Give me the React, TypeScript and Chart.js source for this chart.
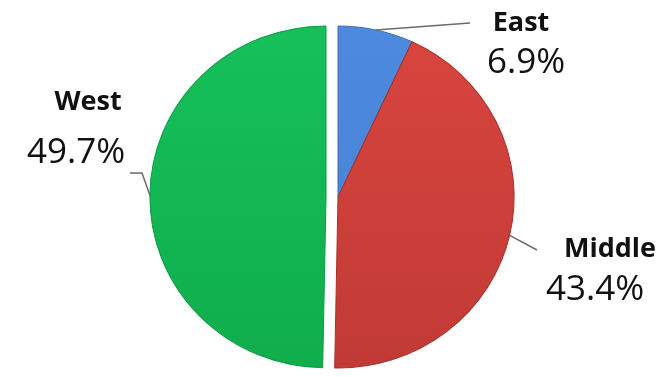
import React, { useEffect, useRef } from "react";
import { Chart, registerables } from "chart.js";

Chart.register(...registerables);

const categories = ["East", "Middle", "West"];
const shares = [6.9, 43.4, 49.7];
const percentLabels = ["6.9%", "43.4%", "49.7%"];
const topColors = ["#4d8ade", "#d9453f", "#15c05a"];
const bottomColors = ["#4582d2", "#c13a35", "#10ad4d"];
const borderColors = ["#3d72b8", "#a9322e", "#0f9a46"];

// style: explode distance per slice (px) and horizontal stretch of the pie
const explode = [0, 0, 12];
const stretchX = 1.03;
const pieRadius = 171;

// label layout relative to each slice's (exploded) centre (style only)
const labelLayout = [
  { line: [[132, -174]], title: [183, -174], value: [188, -134] },
  { line: [[199, 53]], title: [272, 52], value: [257, 93] },
  { line: [[-184, -24], [-196, -24]], title: [-238, -95], value: [-250, -44] },
];

function sliceCentre(arc: any, i: number) {
  const mid = (arc.startAngle + arc.endAngle) / 2;
  const d = explode[i] || 0;
  return { cx: arc.x + Math.cos(mid) * d, cy: arc.y + Math.sin(mid) * d, mid };
}

const explodePlugin = {
  id: "explodeStretch",
  beforeDatasetsDraw(chart: any) {
    const meta = chart.getDatasetMeta(0);
    meta.data.forEach((arc: any, i: number) => {
      if (arc.__patched) return;
      const orig = arc.draw.bind(arc);
      arc.draw = (ctx: CanvasRenderingContext2D) => {
        const { cx, cy } = sliceCentre(arc, i);
        ctx.save();
        ctx.translate(cx, cy);
        ctx.scale(stretchX, 1);
        ctx.translate(-arc.x, -arc.y);
        orig(ctx);
        ctx.restore();
      };
      arc.__patched = true;
    });
  },
};

const labelPlugin = {
  id: "sliceLabels",
  afterDatasetsDraw(chart: any) {
    const ctx = chart.ctx;
    const meta = chart.getDatasetMeta(0);
    meta.data.forEach((arc: any, i: number) => {
      const { cx, cy, mid } = sliceCentre(arc, i);
      const r = arc.outerRadius;
      const ax = cx + Math.cos(mid) * r * stretchX;
      const ay = cy + Math.sin(mid) * r;
      const lay = labelLayout[i];
      ctx.save();
      ctx.strokeStyle = "#6b6b6b";
      ctx.lineWidth = 1.5;
      ctx.beginPath();
      ctx.moveTo(ax, ay);
      lay.line.forEach((p) => ctx.lineTo(cx + p[0], cy + p[1]));
      ctx.stroke();
      ctx.fillStyle = "#111111";
      ctx.textAlign = "center";
      ctx.textBaseline = "middle";
      ctx.font = "bold 27px 'Open Sans', sans-serif";
      ctx.fillText(categories[i], cx + lay.title[0], cy + lay.title[1]);
      ctx.font = "35px 'Open Sans', sans-serif";
      ctx.fillText(percentLabels[i], cx + lay.value[0], cy + lay.value[1]);
      ctx.restore();
    });
  },
};

export default function App() {
  const ref = useRef<HTMLCanvasElement | null>(null);
  useEffect(() => {
    if (!ref.current) return;
    const chart = new Chart(ref.current, {
      type: "pie",
      data: {
        labels: categories,
        datasets: [
          {
            data: shares,
            backgroundColor: (c: any) => {
              const i = c.dataIndex;
              const area = c.chart.chartArea;
              if (!area || !Number.isFinite(area.top) || !Number.isFinite(area.bottom)) return topColors[i];
              const cy = (area.top + area.bottom) / 2;
              const g = c.chart.ctx.createLinearGradient(0, cy - pieRadius, 0, cy + pieRadius);
              g.addColorStop(0, topColors[i]);
              g.addColorStop(1, bottomColors[i]);
              return g;
            },
            borderColor: borderColors,
            borderWidth: 1,
            radius: pieRadius,
            clip: false,
          } as any,
        ],
      },
      options: {
        responsive: false,
        animation: false,
        layout: { padding: { left: 12, top: 17, right: 0, bottom: 0 } },
        plugins: {
          legend: { display: false },
          tooltip: { enabled: false },
        },
      },
      plugins: [explodePlugin, labelPlugin],
    });
    return () => chart.destroy();
  }, []);
  return (
    <div style={{ position: "fixed", left: 0, top: 0, width: 664, height: 377, background: "#ffffff" }}>
      <canvas ref={ref} width={664} height={377} />
    </div>
  );
}
